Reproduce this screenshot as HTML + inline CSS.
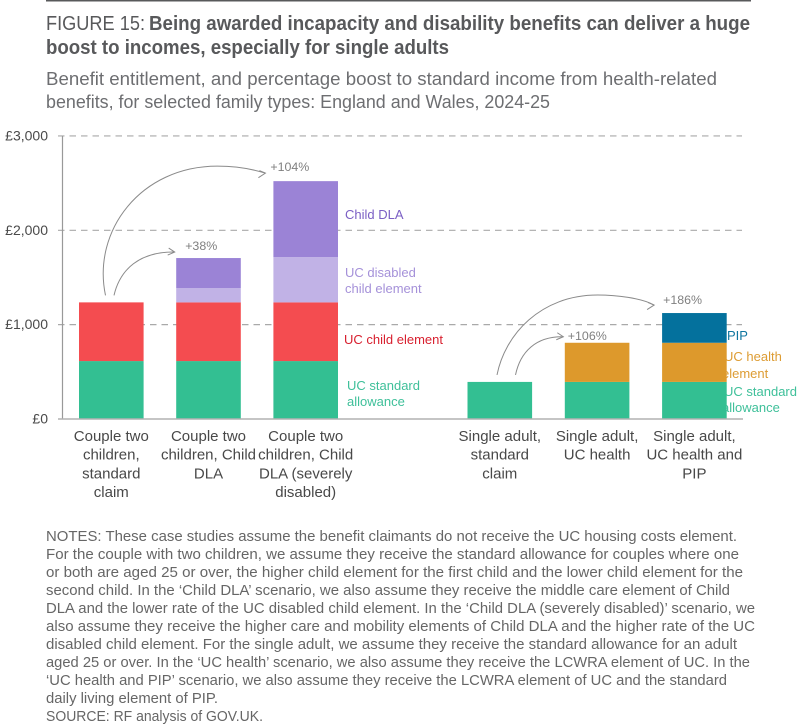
<!DOCTYPE html>
<html lang="en">
<head>
<meta charset="utf-8">
<title>Figure 15</title>
<style>
html,body{margin:0;padding:0;background:#fff;width:803px;height:727px;overflow:hidden}
svg{display:block;font-family:"Liberation Sans",sans-serif}
.notes text{font-size:14.5px;fill:#666}
</style>
</head>
<body>
<svg id="chart" width="803" height="727" viewBox="0 0 803 727" xmlns="http://www.w3.org/2000/svg">
  <rect x="46" y="0" width="705" height="1.5" fill="#58595b"/>
  <g font-size="20" fill="#58595b">
    <text x="46" y="30" textLength="99" lengthAdjust="spacingAndGlyphs">FIGURE 15:</text>
    <text x="149" y="30" font-weight="bold" textLength="601" lengthAdjust="spacingAndGlyphs">Being awarded incapacity and disability benefits can deliver a huge</text>
    <text x="46" y="54" font-weight="bold" textLength="403" lengthAdjust="spacingAndGlyphs">boost to incomes, especially for single adults</text>
  </g>
  <g font-size="18" fill="#6d6e71">
    <text x="46" y="85" textLength="671" lengthAdjust="spacingAndGlyphs">Benefit entitlement, and percentage boost to standard income from health-related</text>
    <text x="46" y="108" textLength="504" lengthAdjust="spacingAndGlyphs">benefits, for selected family types: England and Wales, 2024-25</text>
  </g>
  <g id="plot"></g>
  <g class="notes">
    <text x="46" y="541" textLength="691" lengthAdjust="spacingAndGlyphs">NOTES: These case studies assume the benefit claimants do not receive the UC housing costs element.</text>
    <text x="46" y="559" textLength="693" lengthAdjust="spacingAndGlyphs">For the couple with two children, we assume they receive the standard allowance for couples where one</text>
    <text x="46" y="577" textLength="697" lengthAdjust="spacingAndGlyphs">or both are aged 25 or over, the higher child element for the first child and the lower child element for the</text>
    <text x="46" y="595" textLength="684" lengthAdjust="spacingAndGlyphs">second child. In the ‘Child DLA’ scenario, we also assume they receive the middle care element of Child</text>
    <text x="46" y="613" textLength="709" lengthAdjust="spacingAndGlyphs">DLA and the lower rate of the UC disabled child element. In the ‘Child DLA (severely disabled)’ scenario, we</text>
    <text x="46" y="631" textLength="709" lengthAdjust="spacingAndGlyphs">also assume they receive the higher care and mobility elements of Child DLA and the higher rate of the UC</text>
    <text x="46" y="649" textLength="691" lengthAdjust="spacingAndGlyphs">disabled child element. For the single adult, we assume they receive the standard allowance for an adult</text>
    <text x="46" y="667" textLength="704" lengthAdjust="spacingAndGlyphs">aged 25 or over. In the ‘UC health’ scenario, we also assume they receive the LCWRA element of UC. In the</text>
    <text x="46" y="685" textLength="681" lengthAdjust="spacingAndGlyphs">‘UC health and PIP’ scenario, we also assume they receive the LCWRA element of UC and the standard</text>
    <text x="46" y="703" textLength="172" lengthAdjust="spacingAndGlyphs">daily living element of PIP.</text>
    <text x="46" y="721" textLength="217" lengthAdjust="spacingAndGlyphs">SOURCE: RF analysis of GOV.UK.</text>
  </g>
</svg>
<script>
const categories = [
  ["Couple two", "children,", "standard", "claim"],
  ["Couple two", "children, Child", "DLA"],
  ["Couple two", "children, Child", "DLA (severely", "disabled)"],
  ["Single adult,", "standard", "claim"],
  ["Single adult,", "UC health"],
  ["Single adult,", "UC health and", "PIP"]
];
const ucStandard = [614, 614, 614, 393, 393, 393];
const ucChild = [622, 622, 622, 0, 0, 0];
const ucDisabled = [0, 152, 480, 0, 0, 0];
const childDla = [0, 318, 805, 0, 0, 0];
const ucHealth = [0, 0, 0, 0, 415, 415];
const pip = [0, 0, 0, 0, 0, 315];
const boostLabels = ["", "+38%", "+104%", "", "+106%", "+186%"];
const yTicks = [0, 1000, 2000, 3000];
const yTickLabels = ["£0", "£1,000", "£2,000", "£3,000"];

const svg = document.getElementById('plot');
const NS = 'http://www.w3.org/2000/svg';
const y = v => 419 - v * 0.09435;
const barLeft = i => i < 3 ? 79 + i * 97.2 : 467.5 + (i - 3) * 97.3;
const barWidth = 64.6;
const barMid = i => barLeft(i) + barWidth / 2;
const stackTotal = i => ucStandard[i] + ucChild[i] + ucDisabled[i] + childDla[i] + ucHealth[i] + pip[i];

function make(tag, attrs, name) {
  const el = document.createElementNS(NS, tag);
  for (const k in attrs) el.setAttribute(k, attrs[k]);
  
  
  svg.appendChild(el);
  return el;
}
function label(str, x, yy, size, fill, anchor, name) {
  const el = make('text', {x: x, y: yy, 'font-size': size, fill: fill, 'text-anchor': anchor || 'start'}, name);
  el.textContent = str;
  return el;
}

// gridlines and y axis
yTicks.forEach((t, i) => {
  if (t > 0) make('line', {x1: 58, x2: 742, y1: y(t), y2: y(t), stroke: '#a9a9a9', 'stroke-width': 1.2, 'stroke-dasharray': '6.5 5'}, 'gridline-' + t);
  label(yTickLabels[i], 48, y(t) + 4.5, 14, '#4a4a4a', 'end', 'y-tick-' + t);
});
make('line', {x1: 62.5, x2: 62.5, y1: y(3000), y2: y(0), stroke: '#999', 'stroke-width': 1.2}, 'y-axis-line');

// segment labels (drawn below the bars, which overlap the right-hand ones)
const segLabels = [
  ["Child DLA", 345, 219, '#7b5fc4'],
  ["UC disabled", 345, 277, '#a591d9'],
  ["child element", 345, 293, '#a591d9'],
  ["UC child element", 344, 344, '#d8202f'],
  ["UC standard", 347, 390, '#3fc09a'],
  ["allowance", 347, 406, '#3fc09a'],
  ["PIP", 727, 340, '#0f76a0'],
  ["UC health", 724, 361, '#dd9c33'],
  ["element", 722, 378, '#dd9c33'],
  ["UC standard", 724, 396, '#3fc09a'],
  ["allowance", 722, 412, '#3fc09a']
];
segLabels.forEach((s, i) => label(s[0], s[1], s[2], 13, s[3], 'start', 'segment-label-' + i));

// stacked bars
const seriesList = [
  ['uc-standard', ucStandard, '#33bf92'],
  ['uc-child', ucChild, '#f44c50'],
  ['uc-disabled', ucDisabled, '#c1b2e6'],
  ['uc-health', ucHealth, '#dd992c'],
  ['child-dla', childDla, '#9b83d6'],
  ['pip', pip, '#04719d']
];
categories.forEach((c, i) => {
  let base = 0;
  seriesList.forEach(s => {
    const v = s[1][i];
    if (v > 0) {
      make('rect', {x: barLeft(i), y: y(base + v), width: barWidth, height: y(base) - y(base + v), fill: s[2]}, 'bar-' + s[0] + '-' + i);
      base += v;
    }
  });
  c.forEach((line, j) => label(line, barMid(i), 441 + j * 18.7, 15, '#484848', 'middle', 'category-label-' + i + '-' + j));
});

make('line', {x1: 58, x2: 743, y1: y(0), y2: y(0), stroke: '#b2b2b2', 'stroke-width': 1.6}, 'x-axis-line');

// printed boost percentages, anchored to their bar tops
function boost(i, dx, dy) {
  label(boostLabels[i], barLeft(i) + dx, y(stackTotal(i)) - dy, 12.4, '#808080', 'start', 'boost-label-' + i);
}
boost(1, 9, 8);
boost(2, -3, 10);
boost(4, 3, 3);
boost(5, 1, 9);

// growth arrows anchored to source and target bars
function arrow(from, to, fx, name, big, rise, peak, bulge, shoulder) {
  const sx = barLeft(from) + fx, sy = y(stackTotal(from)) - 7;
  const ex = barLeft(to) - (big ? 8 : 1.5), ey = y(stackTotal(to)) - (big ? 8 : 6);
  let d;
  if (big) {
    const w = ex - sx, topY = ey - rise;
    d = 'M' + sx + ' ' + sy + ' C' + (sx + w * bulge) + ' ' + (sy - (sy - topY) * 0.5) + ' ' + (sx + w * shoulder) + ' ' + topY + ' ' + (sx + w * peak) + ' ' + topY +
        ' C' + (sx + w * (peak + 0.12)) + ' ' + topY + ' ' + (sx + w * 0.92) + ' ' + (topY + 3) + ' ' + ex + ' ' + ey;
  } else {
    const w = ex - sx;
    d = 'M' + sx + ' ' + sy + ' C' + (sx + w * 0.1) + ' ' + (sy - (sy - ey) * 0.6) + ' ' + (sx + w * 0.42) + ' ' + (ey - 0.5) + ' ' + ex + ' ' + ey;
  }
  make('path', {d: d, fill: 'none', stroke: '#8a8a8a', 'stroke-width': 1}, name);
  const dy = big ? 1.5 : 0;
  make('path', {d: 'M' + (ex - 6) + ' ' + (ey - 4 + dy) + ' L' + ex + ' ' + ey + ' L' + (ex - 7) + ' ' + (ey + 3 + dy), fill: 'none', stroke: '#8a8a8a', 'stroke-width': 1}, name + '-head');
}
arrow(0, 2, 26.5, 'arrow-couple-severe', true, 7, 0.70, -0.085, 0.22);
arrow(0, 1, 35, 'arrow-couple-dla', false);
arrow(3, 5, 29.5, 'arrow-single-pip', true, 10, 0.64, 0.05, 0.275);
arrow(3, 4, 48, 'arrow-single-health', false);
</script>
</body>
</html>
